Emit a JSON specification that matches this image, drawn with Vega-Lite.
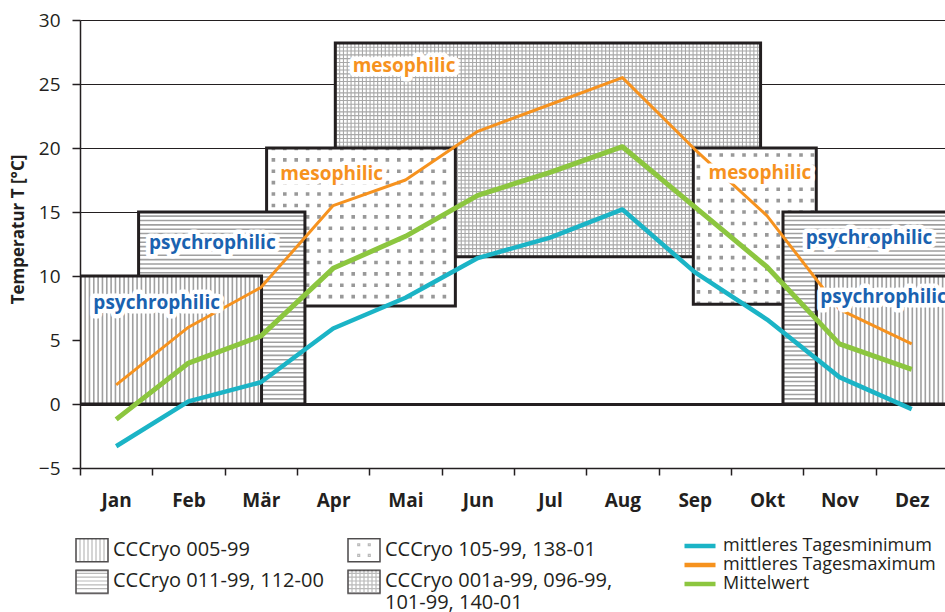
{
 "$schema": "https://vega.github.io/schema/vega-lite/v6.json",
 "width": 865, "height": 448,
 "autosize": {"type": "none"},
 "padding": {"left": 80, "top": 20, "right": 0, "bottom": 144},
 "background": "white",
 "config": {"font": "Open Sans", "view": {"stroke": null}, "legend": {"padding": 0}},
 "datasets": {
  "boxes": [
   {"id": "A", "strain": "CCCryo 005-99", "x1": 0.5, "x2": 3.01, "y1": 0, "y2": 10},
   {"id": "B", "strain": "CCCryo 011-99, 112-00", "x1": 1.31, "x2": 3.61, "y1": 0, "y2": 15},
   {"id": "C", "strain": "CCCryo 105-99, 138-01", "x1": 3.08, "x2": 5.69, "y1": 7.66, "y2": 20},
   {"id": "D", "strain": "CCCryo 001a-99, 096-99, 101-99, 140-01", "x1": 4.03, "x2": 9.91, "y1": 11.5, "y2": 28.2},
   {"id": "E", "strain": "CCCryo 105-99, 138-01", "x1": 8.98, "x2": 10.68, "y1": 7.8, "y2": 20},
   {"id": "F", "strain": "CCCryo 011-99, 112-00", "x1": 10.22, "x2": 12.5, "y1": 0, "y2": 15},
   {"id": "G", "strain": "CCCryo 005-99", "x1": 10.68, "x2": 12.5, "y1": 0, "y2": 10}
  ],
  "lines": [
   {"month": 1, "series": "mittleres Tagesminimum", "value": -3.3},
   {"month": 2, "series": "mittleres Tagesminimum", "value": 0.2},
   {"month": 3, "series": "mittleres Tagesminimum", "value": 1.7},
   {"month": 4, "series": "mittleres Tagesminimum", "value": 5.9},
   {"month": 5, "series": "mittleres Tagesminimum", "value": 8.3},
   {"month": 6, "series": "mittleres Tagesminimum", "value": 11.4},
   {"month": 7, "series": "mittleres Tagesminimum", "value": 13.0},
   {"month": 8, "series": "mittleres Tagesminimum", "value": 15.2},
   {"month": 9, "series": "mittleres Tagesminimum", "value": 10.3},
   {"month": 10, "series": "mittleres Tagesminimum", "value": 6.6},
   {"month": 11, "series": "mittleres Tagesminimum", "value": 2.1},
   {"month": 12, "series": "mittleres Tagesminimum", "value": -0.4},
   {"month": 1, "series": "mittleres Tagesmaximum", "value": 1.5},
   {"month": 2, "series": "mittleres Tagesmaximum", "value": 6.0},
   {"month": 3, "series": "mittleres Tagesmaximum", "value": 9.1},
   {"month": 4, "series": "mittleres Tagesmaximum", "value": 15.5},
   {"month": 5, "series": "mittleres Tagesmaximum", "value": 17.5},
   {"month": 6, "series": "mittleres Tagesmaximum", "value": 21.3},
   {"month": 7, "series": "mittleres Tagesmaximum", "value": 23.4},
   {"month": 8, "series": "mittleres Tagesmaximum", "value": 25.5},
   {"month": 9, "series": "mittleres Tagesmaximum", "value": 19.9},
   {"month": 10, "series": "mittleres Tagesmaximum", "value": 14.7},
   {"month": 11, "series": "mittleres Tagesmaximum", "value": 7.4},
   {"month": 12, "series": "mittleres Tagesmaximum", "value": 4.7},
   {"month": 1, "series": "Mittelwert", "value": -1.2},
   {"month": 2, "series": "Mittelwert", "value": 3.2},
   {"month": 3, "series": "Mittelwert", "value": 5.3},
   {"month": 4, "series": "Mittelwert", "value": 10.6},
   {"month": 5, "series": "Mittelwert", "value": 13.1},
   {"month": 6, "series": "Mittelwert", "value": 16.3},
   {"month": 7, "series": "Mittelwert", "value": 18.1},
   {"month": 8, "series": "Mittelwert", "value": 20.1},
   {"month": 9, "series": "Mittelwert", "value": 15.4},
   {"month": 10, "series": "Mittelwert", "value": 10.7},
   {"month": 11, "series": "Mittelwert", "value": 4.7},
   {"month": 12, "series": "Mittelwert", "value": 2.7}
  ],
  "labels": [
   {"text": "psychrophilic", "x": 1.56, "y": 7.89},
   {"text": "psychrophilic", "x": 2.33, "y": 12.6},
   {"text": "mesophilic", "x": 4.98, "y": 26.4},
   {"text": "mesophilic", "x": 3.98, "y": 18.0},
   {"text": "mesophilic", "x": 9.9, "y": 18.07},
   {"text": "psychrophilic", "x": 11.41, "y": 12.95},
   {"text": "psychrophilic", "x": 11.61, "y": 8.38}
  ]
 },
 "layer": [
  {"data": {"name": "boxes"}, "transform": [{"filter": "datum.id=='D'"}],
   "mark": {"type": "rect", "fill": "white", "clip": true},
   "encoding": {
    "x": {"field": "x1", "type": "quantitative", "scale": {"domain": [0.5, 12.46], "nice": false, "zero": false},
     "axis": {"values": [0.5, 1.5, 2.5, 3.5, 4.5, 5.5, 6.5, 7.5, 8.5, 9.5, 10.5, 11.5],
      "labelExpr": "['Jan','Feb','Mär','Apr','Mai','Jun','Jul','Aug','Sep','Okt','Nov','Dez'][round(datum.value-0.5)]",
      "labelOffset": 36.16, "labelFlush": false, "labelOverlap": false, "labelAlign": "center",
      "labelFontWeight": "bold", "labelFontSize": 19, "labelColor": "#231f20", "labelPadding": 16,
      "tickSize": 7, "tickColor": "#231f20", "tickWidth": 1.5, "domainColor": "#231f20", "domainWidth": 1.5,
      "grid": false, "title": null}},
    "x2": {"field": "x2"},
    "y": {"field": "y1", "type": "quantitative", "scale": {"domain": [-5, 30], "nice": false, "zero": false},
     "axis": {"values": [-5, 0, 5, 10, 15, 20, 25, 30], "labelFontSize": 19, "labelColor": "#231f20", "labelPadding": 12,
      "tickSize": 8, "tickColor": "#231f20", "tickWidth": 1.5, "domainColor": "#231f20", "domainWidth": 1.5,
      "grid": true, "gridColor": "#231f20",
      "gridWidth": {"condition": {"test": "datum.value == 0", "value": 3}, "value": 1},
      "gridOpacity": {"condition": {"test": "datum.value == 0 || datum.value >= 15", "value": 1}, "value": 0},
      "title": "Temperatur T [°C]", "titleFontSize": 17, "titleFontWeight": "bold", "titleColor": "#231f20",
      "titleX": -53, "titleY": 209}},
    "y2": {"field": "y2"}}},
  {"data": {"name": "boxes"}, "transform": [{"filter": "datum.id=='D'"}],
   "mark": {"type": "rule", "stroke": "#a8a8a8", "strokeWidth": 213.8, "yOffset": 106.9, "strokeDash": [1.1, 2.7], "strokeCap": "butt", "clip": true},
   "encoding": {"x": {"field": "x1", "type": "quantitative"}, "x2": {"field": "x2"}, "y": {"field": "y2", "type": "quantitative"}}},
  {"data": {"name": "boxes"}, "transform": [{"filter": "datum.id=='D'"}],
   "mark": {"type": "rule", "stroke": "#a8a8a8", "strokeWidth": 425.2, "xOffset": 212.6, "strokeDash": [1.1, 2.7], "strokeCap": "butt", "clip": true},
   "encoding": {"x": {"field": "x1", "type": "quantitative"}, "y": {"field": "y1", "type": "quantitative"}, "y2": {"field": "y2"}}},
  {"data": {"name": "boxes"}, "transform": [{"filter": "datum.id=='D'"}],
   "mark": {"type": "rect", "fill": "transparent", "stroke": "#231f20", "strokeWidth": 3, "clip": true},
   "encoding": {"x": {"field": "x1", "type": "quantitative"}, "x2": {"field": "x2"}, "y": {"field": "y1", "type": "quantitative"}, "y2": {"field": "y2"}}},

  {"data": {"name": "boxes"}, "transform": [{"filter": "datum.id=='C' || datum.id=='E'"}],
   "mark": {"type": "rect", "fill": "white", "clip": true},
   "encoding": {"x": {"field": "x1", "type": "quantitative"}, "x2": {"field": "x2"}, "y": {"field": "y1", "type": "quantitative"}, "y2": {"field": "y2"}}},
  {"data": {"name": "boxes"}, "transform": [{"filter": "datum.id=='C'"}],
   "mark": {"type": "rule", "stroke": "#999999", "strokeWidth": 158.0, "yOffset": 79.0, "strokeDash": [3.6, 7.8], "strokeDashOffset": 6.4, "strokeCap": "butt", "clip": true},
   "encoding": {"x": {"field": "x1", "type": "quantitative"}, "x2": {"field": "x2"}, "y": {"field": "y2", "type": "quantitative"}}},
  {"data": {"name": "boxes"}, "transform": [{"filter": "datum.id=='C'"}],
   "mark": {"type": "rule", "stroke": "white", "strokeWidth": 188.8, "xOffset": 94.4, "strokeDash": [7.8, 3.6], "strokeDashOffset": 0.3, "strokeCap": "butt", "clip": true},
   "encoding": {"x": {"field": "x1", "type": "quantitative"}, "y": {"field": "y1", "type": "quantitative"}, "y2": {"field": "y2"}}},
  {"data": {"name": "boxes"}, "transform": [{"filter": "datum.id=='E'"}],
   "mark": {"type": "rule", "stroke": "#999999", "strokeWidth": 156.2, "yOffset": 78.1, "strokeDash": [3.6, 7.8], "strokeDashOffset": 8.1, "strokeCap": "butt", "clip": true},
   "encoding": {"x": {"field": "x1", "type": "quantitative"}, "x2": {"field": "x2"}, "y": {"field": "y2", "type": "quantitative"}}},
  {"data": {"name": "boxes"}, "transform": [{"filter": "datum.id=='E'"}],
   "mark": {"type": "rule", "stroke": "white", "strokeWidth": 122.9, "xOffset": 61.45, "strokeDash": [7.8, 3.6], "strokeDashOffset": 8.7, "strokeCap": "butt", "clip": true},
   "encoding": {"x": {"field": "x1", "type": "quantitative"}, "y": {"field": "y1", "type": "quantitative"}, "y2": {"field": "y2"}}},
  {"data": {"name": "boxes"}, "transform": [{"filter": "datum.id=='C' || datum.id=='E'"}],
   "mark": {"type": "rect", "fill": "transparent", "stroke": "#231f20", "strokeWidth": 3, "clip": true},
   "encoding": {"x": {"field": "x1", "type": "quantitative"}, "x2": {"field": "x2"}, "y": {"field": "y1", "type": "quantitative"}, "y2": {"field": "y2"}}},

  {"data": {"name": "boxes"}, "transform": [{"filter": "datum.id=='B' || datum.id=='F'"}],
   "mark": {"type": "rect", "fill": "white", "clip": true},
   "encoding": {"x": {"field": "x1", "type": "quantitative"}, "x2": {"field": "x2"}, "y": {"field": "y1", "type": "quantitative"}, "y2": {"field": "y2"}}},
  {"data": {"name": "boxes"}, "transform": [{"filter": "datum.id=='B' || datum.id=='F'"}],
   "mark": {"type": "rule", "stroke": "#a0a0a0", "strokeWidth": 166.3, "xOffset": 83.15, "strokeDash": [1.6, 2.75], "strokeCap": "butt", "clip": true},
   "encoding": {"x": {"field": "x1", "type": "quantitative"}, "y": {"field": "y1", "type": "quantitative"}, "y2": {"field": "y2"}}},
  {"data": {"name": "boxes"}, "transform": [{"filter": "datum.id=='B' || datum.id=='F'"}],
   "mark": {"type": "rect", "fill": "transparent", "stroke": "#231f20", "strokeWidth": 3, "clip": true},
   "encoding": {"x": {"field": "x1", "type": "quantitative"}, "x2": {"field": "x2"}, "y": {"field": "y1", "type": "quantitative"}, "y2": {"field": "y2"}}},

  {"data": {"name": "boxes"}, "transform": [{"filter": "datum.id=='A' || datum.id=='G'"}],
   "mark": {"type": "rect", "fill": "white", "clip": true},
   "encoding": {"x": {"field": "x1", "type": "quantitative"}, "x2": {"field": "x2"}, "y": {"field": "y1", "type": "quantitative"}, "y2": {"field": "y2"}}},
  {"data": {"name": "boxes"}, "transform": [{"filter": "datum.id=='A' || datum.id=='G'"}],
   "mark": {"type": "rule", "stroke": "#a0a0a0", "strokeWidth": 128, "yOffset": 64, "strokeDash": [1.6, 2.73], "strokeCap": "butt", "clip": true},
   "encoding": {"x": {"field": "x1", "type": "quantitative"}, "x2": {"field": "x2"}, "y": {"field": "y2", "type": "quantitative"}}},
  {"data": {"name": "boxes"}, "transform": [{"filter": "datum.id=='A' || datum.id=='G'"}],
   "mark": {"type": "rect", "fill": "transparent", "stroke": "#231f20", "strokeWidth": 3, "clip": true},
   "encoding": {"x": {"field": "x1", "type": "quantitative"}, "x2": {"field": "x2"}, "y": {"field": "y1", "type": "quantitative"}, "y2": {"field": "y2"}}},

  {"data": {"name": "lines"}, "transform": [{"filter": "datum.series == 'mittleres Tagesmaximum'"}],
   "mark": {"type": "line", "strokeJoin": "round", "strokeWidth": 3},
   "encoding": {
    "x": {"field": "month", "type": "quantitative"},
    "y": {"field": "value", "type": "quantitative"},
    "color": {"field": "series", "type": "nominal",
     "scale": {"domain": ["mittleres Tagesminimum", "mittleres Tagesmaximum", "Mittelwert"], "range": ["#1bb4c6", "#f6921e", "#8cc63f"]},
     "legend": {"orient": "none", "legendX": 602, "legendY": 516.5, "title": null, "symbolType": "stroke", "symbolSize": 961,
      "symbolStrokeWidth": 4.5, "clipHeight": 19, "rowPadding": 0, "labelFontSize": 18, "labelColor": "#231f20",
      "labelOffset": 5, "labelLimit": 500, "padding": 0}}}},
  {"data": {"name": "lines"}, "transform": [{"filter": "datum.series == 'Mittelwert'"}],
   "mark": {"type": "line", "strokeJoin": "round", "strokeWidth": 5},
   "encoding": {
    "x": {"field": "month", "type": "quantitative"},
    "y": {"field": "value", "type": "quantitative"},
    "color": {"field": "series", "type": "nominal"}}},
  {"data": {"name": "lines"}, "transform": [{"filter": "datum.series == 'mittleres Tagesminimum'"}],
   "mark": {"type": "line", "strokeJoin": "round", "strokeWidth": 4.5},
   "encoding": {
    "x": {"field": "month", "type": "quantitative"},
    "y": {"field": "value", "type": "quantitative"},
    "color": {"field": "series", "type": "nominal"}}},

  {"data": {"name": "labels"},
   "mark": {"type": "text", "fontSize": 19, "fontWeight": "bold", "stroke": "white", "strokeWidth": 9, "strokeJoin": "round", "fill": "white", "baseline": "middle", "align": "center"},
   "encoding": {"x": {"field": "x", "type": "quantitative"}, "y": {"field": "y", "type": "quantitative"}, "text": {"field": "text"}}},
  {"data": {"name": "labels"},
   "mark": {"type": "text", "fontSize": 19, "fontWeight": "bold", "baseline": "middle", "align": "center"},
   "encoding": {"x": {"field": "x", "type": "quantitative"}, "y": {"field": "y", "type": "quantitative"}, "text": {"field": "text"},
    "color": {"condition": {"test": "datum.text == 'mesophilic'", "value": "#f6921e"}, "value": "#1a62b0"}}},

  {"data": {"name": "boxes"}, "transform": [{"filter": "false"}],
   "mark": {"type": "point", "filled": false, "stroke": "#9d9d9d", "strokeWidth": 1.2},
   "encoding": {"shape": {"field": "strain", "type": "nominal",
    "scale": {"domain": ["CCCryo 005-99", "CCCryo 105-99, 138-01", "CCCryo 011-99, 112-00", "CCCryo 001a-99, 096-99, 101-99, 140-01"],
     "range": [
      "M-1,-0.72H1V0.72H-1ZM-0.75,-0.72V0.72M-0.5,-0.72V0.72M-0.25,-0.72V0.72M0,-0.72V0.72M0.25,-0.72V0.72M0.5,-0.72V0.72M0.75,-0.72V0.72",
      "M-1,-0.72H1V0.72H-1ZM-0.39,-0.39h0.12v0.12h-0.12ZM0.27,-0.39h0.12v0.12h-0.12ZM-0.39,0.27h0.12v0.12h-0.12ZM0.27,0.27h0.12v0.12h-0.12Z",
      "M-1,-0.72H1V0.72H-1ZM-1,-0.48H1M-1,-0.24H1M-1,0H1M-1,0.24H1M-1,0.48H1",
      "M-1,-0.72H1V0.72H-1ZM-0.75,-0.72V0.72M-0.5,-0.72V0.72M-0.25,-0.72V0.72M0,-0.72V0.72M0.25,-0.72V0.72M0.5,-0.72V0.72M0.75,-0.72V0.72M-1,-0.48H1M-1,-0.24H1M-1,0H1M-1,0.24H1M-1,0.48H1"]},
    "legend": {"orient": "none", "legendX": -5, "legendY": 513, "columns": 2, "direction": "horizontal", "title": null,
     "symbolSize": 1024, "symbolStrokeWidth": 1.2, "symbolStrokeColor": "#9d9d9d", "symbolFillColor": "transparent",
     "labelFontSize": 20, "labelColor": "#231f20", "labelOffset": 4, "columnPadding": 21, "rowPadding": 0, "labelLimit": 500, "padding": 0,
     "labelExpr": "datum.label == 'CCCryo 001a-99, 096-99, 101-99, 140-01' ? ['CCCryo 001a-99, 096-99,', '101-99, 140-01'] : datum.label"}}}},
  {"data": {"name": "boxes"}, "transform": [{"filter": "false"}],
   "mark": {"type": "point", "filled": false, "stroke": "#231f20", "strokeWidth": 1.5},
   "encoding": {"shape": {"field": "strain", "type": "nominal",
    "scale": {"domain": ["CCCryo 005-99", "CCCryo 105-99, 138-01", "CCCryo 011-99, 112-00", "CCCryo 001a-99, 096-99, 101-99, 140-01"],
     "range": ["M-1,-0.72H1V0.72H-1Z", "M-1,-0.72H1V0.72H-1Z", "M-1,-0.72H1V0.72H-1Z", "M-1,-0.72H1V0.72H-1Z"]},
    "legend": {"orient": "none", "legendX": -5, "legendY": 513, "columns": 2, "direction": "horizontal", "title": null,
     "symbolSize": 1024, "symbolStrokeWidth": 1.5, "symbolStrokeColor": "#231f20", "symbolFillColor": "transparent",
     "labelFontSize": 20, "labelColor": "transparent", "labelOffset": 4, "columnPadding": 21, "rowPadding": 0, "labelLimit": 500, "padding": 0,
     "labelExpr": "datum.label == 'CCCryo 001a-99, 096-99, 101-99, 140-01' ? ['CCCryo 001a-99, 096-99,', '101-99, 140-01'] : datum.label"}}}}
 ],
 "resolve": {"scale": {"shape": "independent"}, "legend": {"shape": "independent"}}
}
